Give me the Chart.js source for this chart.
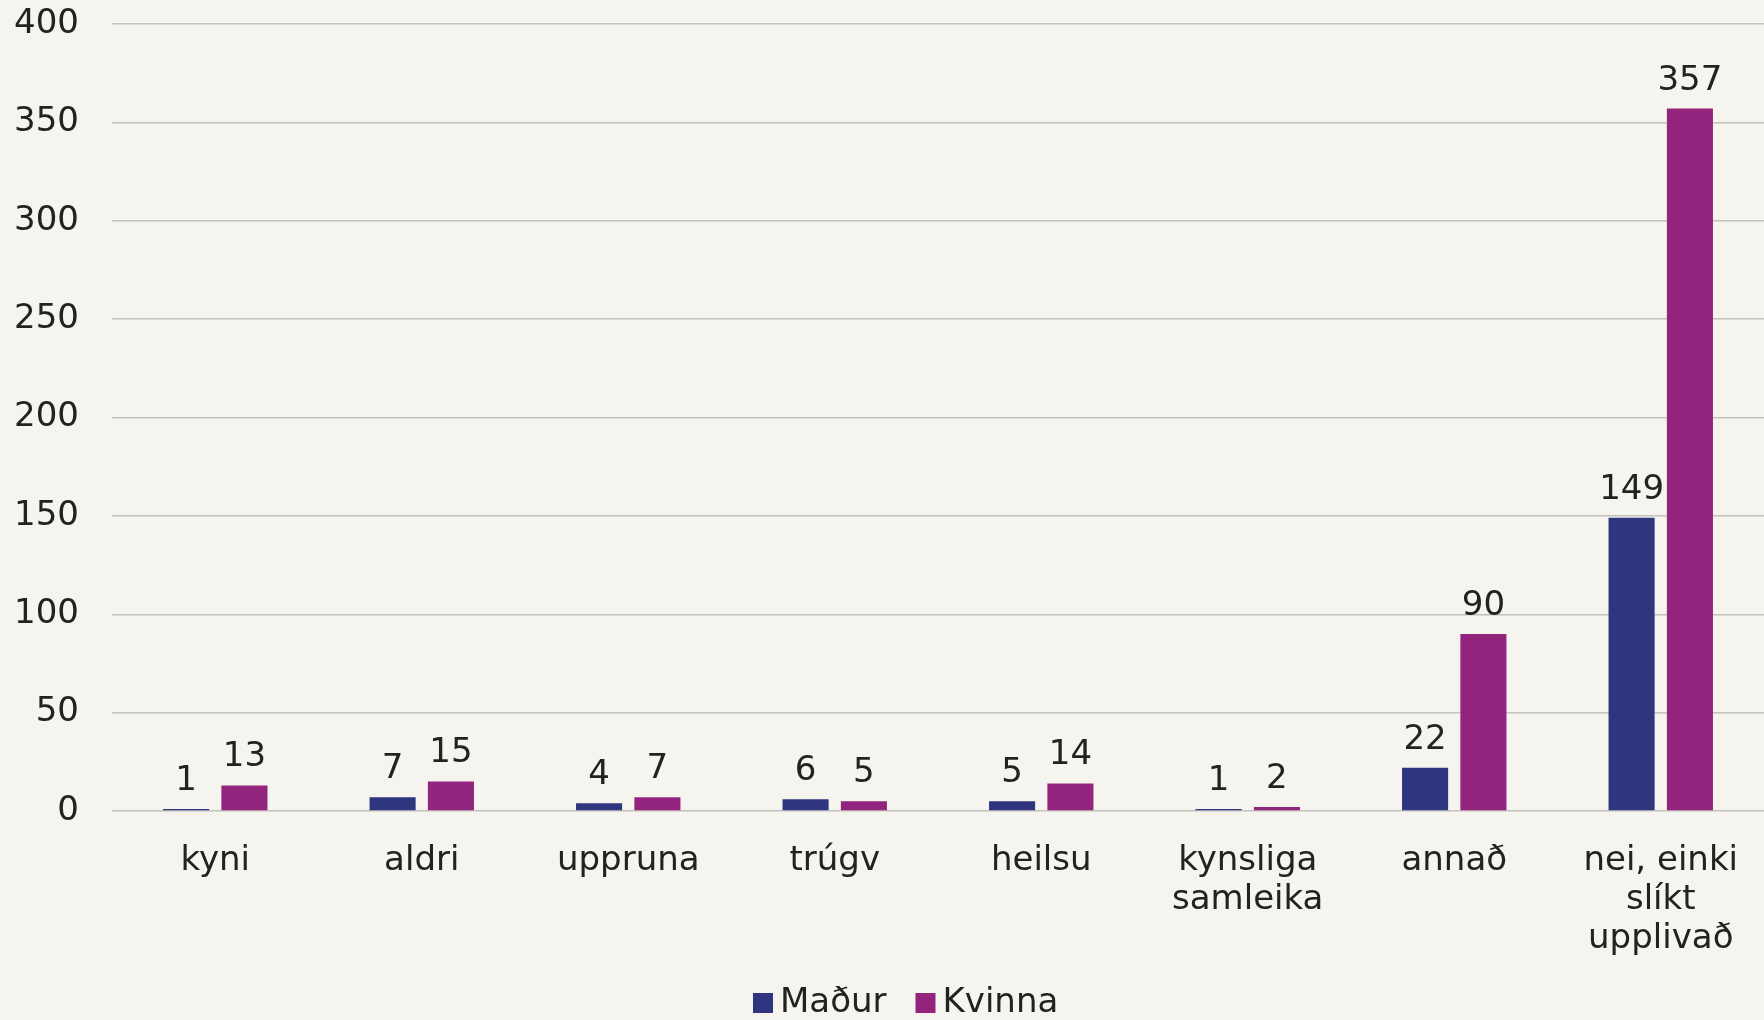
<!DOCTYPE html>
<html>
<head>
<meta charset="utf-8">
<script src="https://cdn.jsdelivr.net/npm/chart.js@4/dist/chart.umd.min.js"></script>
<style>
  html, body { margin: 0; padding: 0; background: #f6f4ef; }
  #wrap { width: 1764px; height: 1020px; }
</style>
</head>
<body>
<div id="wrap"><canvas id="barChart" width="1764" height="1020"></canvas></div>
<script>
// Categories and values
const categories = [
    'kyni',
    'aldri',
    'uppruna',
    'trúgv',
    'heilsu',
    ['kynsliga', 'samleika'],
    'annað',
    ['nei, einki', 'slíkt', 'upplivað']
];
const madur = [1, 7, 4, 6, 5, 1, 22, 149];
const kvinna = [13, 15, 7, 5, 14, 2, 90, 357];
const yTicks = [0, 50, 100, 150, 200, 250, 300, 350, 400];

const fontFamily = "'DejaVu Sans', Verdana, sans-serif";

// Value labels above each bar
const valueLabels = {
    id: 'valueLabels',
    afterDatasetsDraw(chart) {
        const ctx = chart.ctx;
        ctx.save();
        ctx.font = '34px ' + fontFamily;
        ctx.fillStyle = '#222';
        ctx.textAlign = 'center';
        ctx.textBaseline = 'alphabetic';
        chart.data.datasets.forEach((ds, i) => {
            chart.getDatasetMeta(i).data.forEach((bar, j) => {
                ctx.fillText(String(ds.data[j]), bar.x, bar.y - 19);
            });
        });
        ctx.restore();
    }
};

// Legend drawn below the axis labels, slightly right of centre like the original
const bottomLegend = {
    id: 'bottomLegend',
    afterDraw(chart) {
        const ctx = chart.ctx;
        const y = 1003;
        let x = 753;
        ctx.save();
        ctx.font = '34px ' + fontFamily;
        ctx.textBaseline = 'middle';
        ctx.textAlign = 'left';
        chart.data.datasets.forEach(ds => {
            ctx.fillStyle = ds.backgroundColor;
            ctx.fillRect(x, y - 10, 20, 20);
            ctx.fillStyle = '#222';
            ctx.fillText(ds.label, x + 27, y);
            x += 27 + ctx.measureText(ds.label).width + 29;
        });
        ctx.restore();
    }
};

new Chart(document.getElementById('barChart'), {
    type: 'bar',
    data: {
        labels: categories,
        datasets: [
            {
                label: 'Maður',
                data: madur,
                backgroundColor: '#2f357f'
            },
            {
                label: 'Kvinna',
                data: kvinna,
                backgroundColor: '#93247d'
            }
        ]
    },
    options: {
        responsive: false,
        animation: false,
        categoryPercentage: 0.565,
        barPercentage: 0.79,
        layout: {
            padding: { top: 24, left: 0, right: 0, bottom: 55 }
        },
        plugins: {
            tooltip: { enabled: false },
            legend: { display: false }
        },
        scales: {
            x: {
                afterFit: (axis) => {
                    axis.height = 154;
                },
                grid: { display: false },
                border: { display: false },
                ticks: {
                    color: '#222',
                    font: { family: fontFamily, size: 34, lineHeight: 1.16 },
                    padding: 22,
                    maxRotation: 0,
                    autoSkip: false
                }
            },
            y: {
                min: 0,
                max: 400,
                afterBuildTicks: (axis) => {
                    axis.ticks = yTicks.map(v => ({ value: v }));
                },
                afterFit: (axis) => {
                    axis.width = 112;
                    axis.paddingTop = 0;
                    axis.paddingBottom = 0;
                },
                grid: {
                    color: '#c4c2bd',
                    lineWidth: 1.5,
                    drawTicks: false
                },
                border: { display: false },
                ticks: {
                    color: '#222',
                    font: { family: fontFamily, size: 34 },
                    padding: 33
                }
            }
        }
    },
    plugins: [valueLabels, bottomLegend]
});
</script>
</body>
</html>
